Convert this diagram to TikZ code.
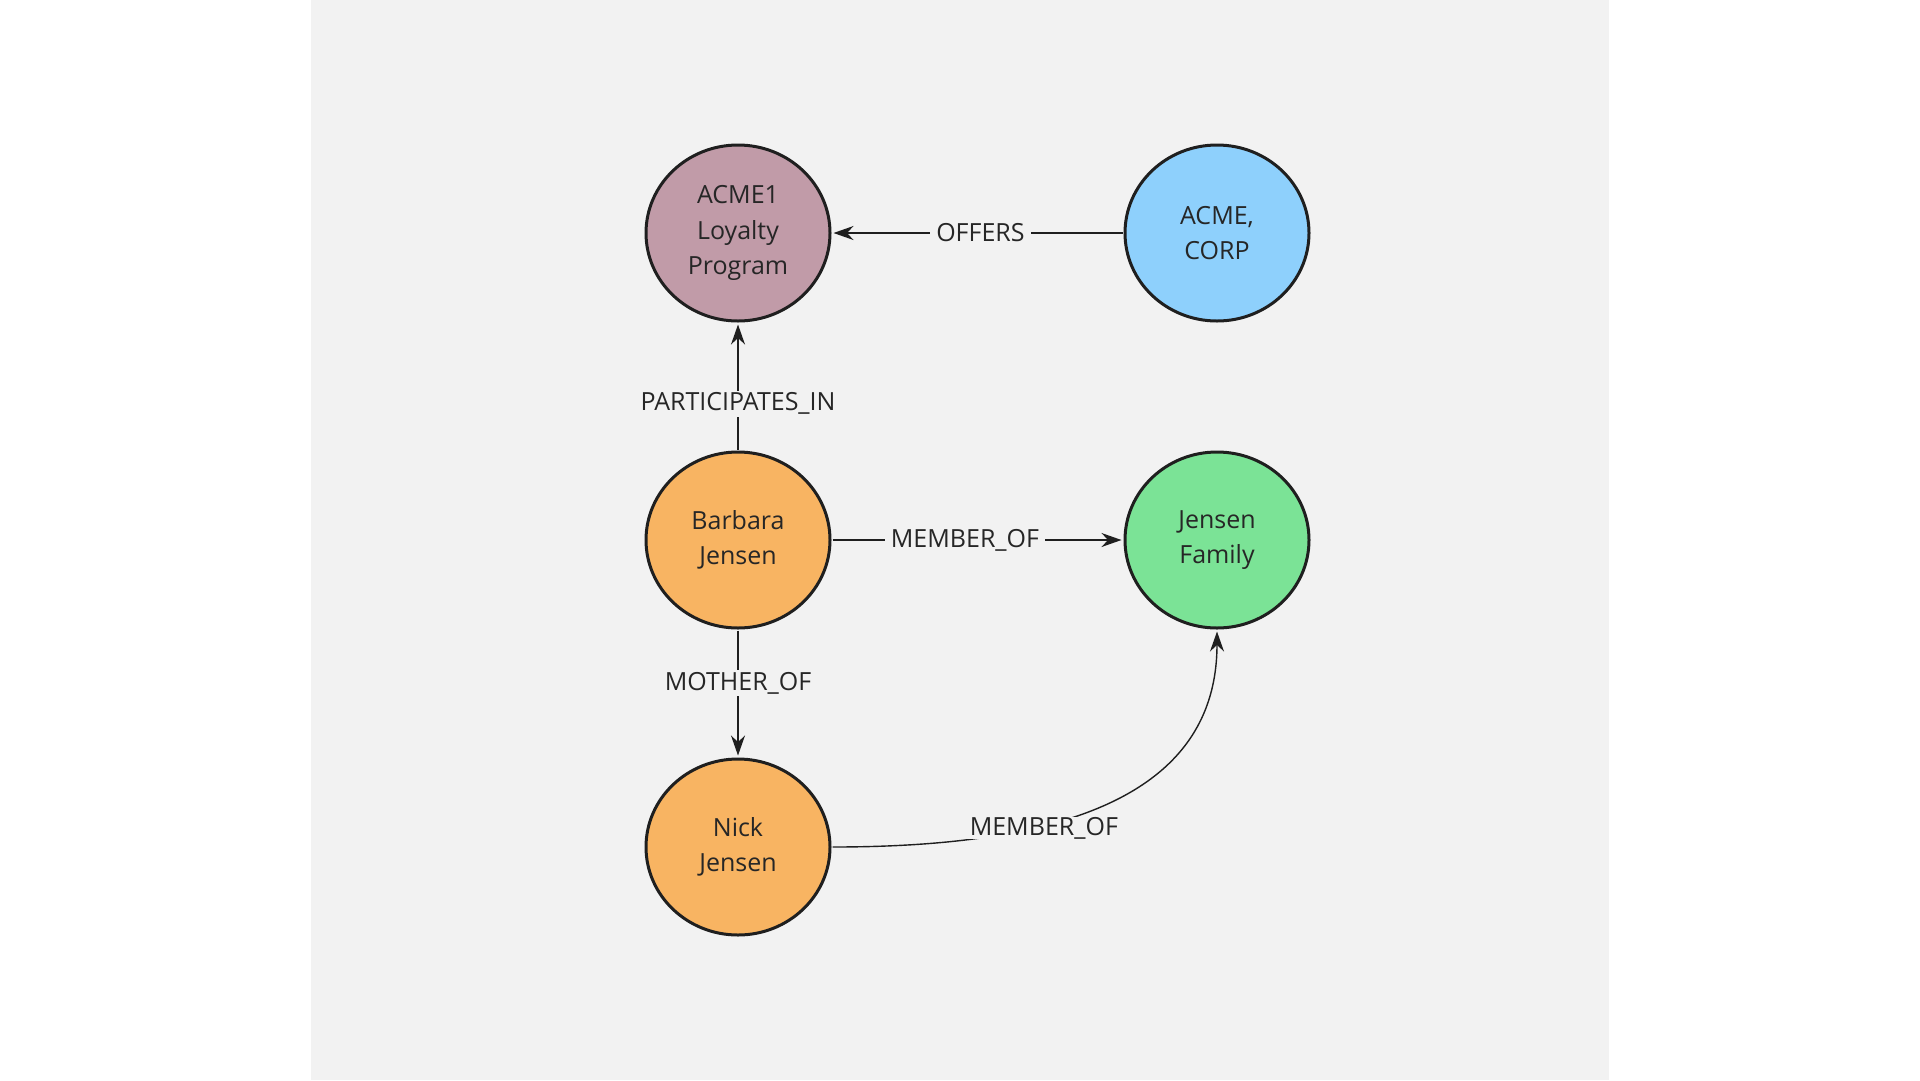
\documentclass[tikz,border=0pt]{standalone}
\usepackage{fontspec}
\setmainfont{Open Sans}
\usetikzlibrary{shapes.geometric,arrows.meta}
\definecolor{bgc}{HTML}{F2F2F2}
\definecolor{txt}{HTML}{262626}
\definecolor{mauve}{HTML}{C19BA8}
\definecolor{sky}{HTML}{8ED0FC}
\definecolor{orng}{HTML}{F8B462}
\definecolor{grn}{HTML}{7BE396}
\tikzset{
  ent/.style={ellipse, draw=black!88, line width=3pt, minimum width=184pt, minimum height=176pt,
    inner sep=0pt, align=center, text=txt, font=\fontsize{25}{35.5}\selectfont},
  rel/.style={draw=black!88, line width=1.4pt},
  tip/.style={-{Stealth[length=20pt,width=14pt]}},
  lbl/.style={fill=bgc, text=txt, inner xsep=6pt, inner ysep=2pt, font=\fontsize{25}{28}\selectfont}
}
\begin{document}
\begin{tikzpicture}[x=1pt,y=-1pt]
\useasboundingbox (0,0) rectangle (1920,1080);
\fill[white] (0,0) rectangle (1920,1080);
\fill[bgc] (311,0) rectangle (1609,1080);
\node[ent, fill=mauve] (acme1) at (738,233) {ACME1\\Loyalty\\Program};
\node[ent, fill=sky] (corp) at (1217,233) {ACME,\\CORP};
\node[ent, fill=orng] (barb) at (738,540) {Barbara\\Jensen};
\node[ent, fill=grn] (fam) at (1217,540) {Jensen\\Family};
\node[ent, fill=orng] (nick) at (738,847) {Nick\\Jensen};
\draw[rel, tip, shorten >=2pt, shorten <=1pt] (corp) -- node[lbl, pos=0.49] {OFFERS} (acme1);
\draw[rel, tip, shorten >=2pt, shorten <=1pt] (barb) -- node[lbl, pos=0.365] {PARTICIPATES\_IN} (acme1);
\draw[rel, tip, shorten >=2pt, shorten <=1pt] (barb) -- node[lbl, pos=0.457] {MEMBER\_OF} (fam);
\draw[rel, tip, shorten >=2pt, shorten <=1pt] (barb) -- node[lbl, pos=0.42] {MOTHER\_OF} (nick);
\draw[rel, tip, shorten >=2pt, shorten <=1pt] (nick.east) .. controls +(200,0) and +(0,180) .. node[lbl, pos=0.38, inner ysep=0pt, yshift=-3pt] {MEMBER\_OF} (fam.south);
\end{tikzpicture}
\end{document}
